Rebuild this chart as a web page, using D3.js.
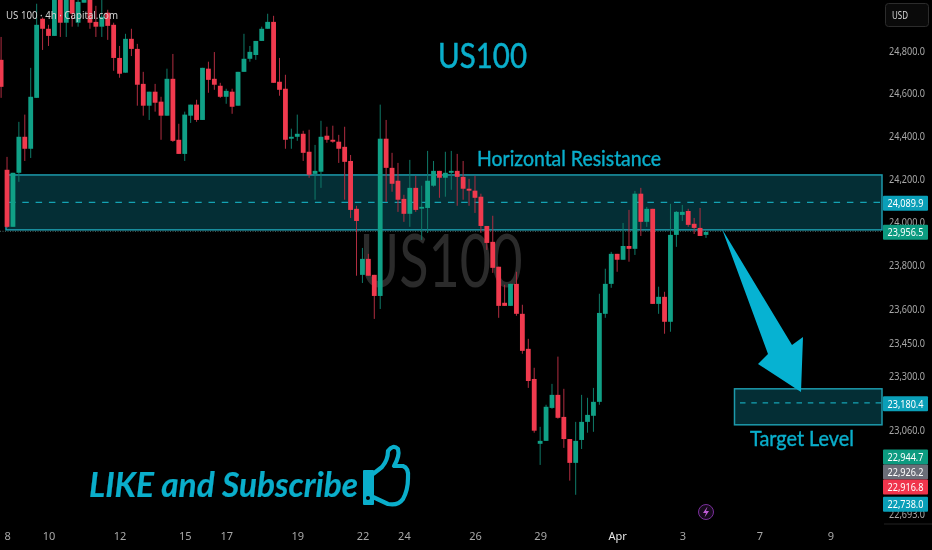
<!DOCTYPE html>
<html><head><meta charset="utf-8">
<script src="https://cdn.jsdelivr.net/npm/d3@7/dist/d3.min.js"></script>
<style>html,body{margin:0;padding:0;background:#000;overflow:hidden}svg{display:block;filter:blur(0.35px)}text{font-family:"Lato","Noto Sans",sans-serif}</style>
</head><body><div id="chart"></div>
<script>
const opens=[24758,24241,23977,24227,24395,24339,24578,24954,24906,24872,
25110,24935,25093,24935,25031,25093,24939,24916,24983,24925,
24767,24697,24858,24810,24644,24541,24607,24560,24494,24668,
24381,24315,24494,24546,24474,24716,24668,24635,24583,24607,
24541,24701,24763,24781,24848,24906,24939,24654,24621,24386,
24395,24409,24325,24222,24232,24400,24381,24372,24348,24282,
24060,23757,23830,23757,23661,24386,24250,24190,24106,24037,
24157,24064,24064,24167,24236,24204,24227,24236,24208,24153,
24144,24116,23981,23908,23794,23630,23616,23716,23580,23422,
23287,22999,23012,23158,23216,23118,23020,22915,23016,23096,
23123,23185,23580,23716,23853,23826,23889,23876,24130,24000,
24060,23625,23657,23544,23940,24032,24050,23991,23972,23940];
const highs=[24867,24301,24227,24465,24499,24720,25026,24960,24925,25130,
25130,25090,25110,25060,25080,25110,25016,25045,24997,24935,
24824,24882,24906,24834,24701,24607,24644,24583,24716,24786,
24456,24513,24546,24569,24720,24749,24795,24649,24621,24621,
24701,24882,24824,24848,24916,24978,24968,24767,24687,24433,
24499,24423,24428,24357,24470,24442,24447,24404,24442,24310,
24074,23880,23853,23757,24546,24474,24320,24273,24125,24287,
24213,24167,24329,24282,24236,24325,24329,24315,24282,24199,
24213,24130,23981,24028,23794,23712,23716,23771,23621,23467,
23337,23074,23172,23265,23387,23243,23020,23096,23216,23203,
23247,23671,23785,23862,23853,23995,24055,24143,24157,24069,
24060,23703,23680,24083,24050,24078,24060,24018,24064,23954];
const lows=[24578,23972,23977,24185,24282,24296,24578,24805,24824,24872,
24867,24867,24916,24916,25031,24906,24867,24867,24853,24706,
24673,24697,24776,24541,24494,24474,24513,24381,24494,24371,
24315,24282,24460,24465,24474,24602,24616,24578,24550,24503,
24541,24701,24749,24758,24848,24906,24649,24588,24339,24339,
24376,24282,24204,24102,24157,24367,24367,24273,24102,24018,
23753,23720,23753,23557,23602,24092,24139,24046,24000,23977,
24046,23917,23949,24162,24111,24116,24148,24074,24102,24074,
24041,23949,23871,23766,23562,23616,23616,23571,23400,23247,
23048,22906,23012,23154,23110,22981,22837,22775,22976,23048,
23052,23172,23562,23698,23771,23826,23817,23848,23935,23977,
23625,23580,23490,23499,23885,24004,23977,23944,23935,23926];
const closes=[24630,23977,24227,24395,24339,24583,24925,24906,24872,25117,
24935,25070,24978,25035,25070,24935,24916,24963,24920,24767,
24692,24858,24810,24640,24541,24607,24555,24494,24668,24376,
24315,24499,24546,24474,24720,24663,24640,24583,24611,24536,
24701,24763,24796,24848,24906,24939,24649,24616,24381,24395,
24409,24320,24218,24236,24395,24381,24372,24339,24278,24055,
24004,23830,23753,23661,24386,24250,24176,24102,24037,24157,
24055,24069,24190,24236,24204,24227,24236,24208,24153,24144,
24111,23981,23903,23789,23616,23616,23716,23580,23413,23278,
23057,23012,23163,23216,23114,23020,22915,23012,23096,23127,
23185,23584,23716,23853,23826,23889,23876,24130,24000,24060,
23625,23657,23544,23940,24046,24046,23986,23972,23935,23954];
const priceTicks=[24800,24600,24400,24200,24000,23800,23600,23450,23300,23060,22693];
const dateIdx=[2,9,21,32,39,51,62,69,81,92,105,116,129,141];
const dateLabels=["8","10","12","15","17","19","22","24","26","29","Apr","3","7","9"];
const zoneRes={top:24217,mid:24089.9,bottom:23963};
const zoneTgt={top:23243,mid:23180.4,bottom:23083};
const lastClose=23956.5;
const tagPrices=[24089.9,23956.5,23180.4,22944.7,22926.2,22916.8,22738.0];
const tagFills=["#0a9fb8","#0c9b80","#0a9fb8","#0c9b80","#6b6e78","#f0344c","#0a9fb8"];

const W=932,H=550,TEAL="#0aaecb";
const y=d3.scaleLog().domain([24800,23060]).range([51,430]);
const x=d3.scaleLinear().domain([1,120]).range([1.1,706]);
const xEnd=882;
const svg=d3.select("#chart").append("svg").attr("width",W).attr("height",H).attr("viewBox",`0 0 ${W} ${H}`);
svg.append("rect").attr("width",W).attr("height",H).attr("fill","#000");
const defs=svg.append("defs");
defs.append("clipPath").attr("id","plot").append("rect").attr("width",xEnd+1).attr("height",524);
const plot=svg.append("g").attr("clip-path","url(#plot)");

plot.append("text").attr("x",441).attr("y",287).attr("text-anchor","middle")
  .attr("font-size",73).attr("fill","#2b2b2b").attr("textLength",163).attr("lengthAdjust","spacingAndGlyphs").text("US100");

function zone(z,x0,x1,dash0,dash){
  plot.append("rect").attr("x",x0).attr("y",y(z.top)).attr("width",x1-x0).attr("height",y(z.bottom)-y(z.top))
   .attr("fill","#042e35").attr("stroke","#1c9aac").attr("stroke-width",1.5);
  plot.append("line").attr("x1",dash0).attr("x2",x1).attr("y1",y(z.mid)).attr("y2",y(z.mid))
   .attr("stroke","#14a3b4").attr("stroke-width",1.3).attr("stroke-dasharray",dash);
}
zone(zoneRes,6,xEnd,9,"6.5,6.8");
zone(zoneTgt,734.5,xEnd,740,"5.5,5.8");
plot.append("line").attr("x1",0).attr("x2",xEnd).attr("y1",y(lastClose)).attr("y2",y(lastClose))
  .attr("stroke","#4a6a66").attr("stroke-width",1).attr("stroke-dasharray","1,1.5");

const idx=d3.range(opens.length);
const color=i=>closes[i]>=opens[i]?"#10a086":"#f03a4e";
const wickColor=i=>closes[i]>=opens[i]?"#0f7a68":"#b02d40";
const cg=plot.append("g");
cg.selectAll("line.w").data(idx).join("line").attr("class","w")
  .attr("x1",i=>x(i+1)).attr("x2",i=>x(i+1)).attr("y1",i=>y(highs[i])).attr("y2",i=>y(lows[i]))
  .attr("stroke",wickColor).attr("stroke-width",1);
cg.selectAll("rect.b").data(idx).join("rect").attr("class","b")
  .attr("x",i=>x(i+1)-2.4).attr("width",4.8)
  .attr("y",i=>Math.min(y(opens[i]),y(closes[i])))
  .attr("height",i=>Math.max(1.8,Math.abs(y(opens[i])-y(closes[i]))))
  .attr("fill",color);

// Arrow
svg.append("path").attr("d","M722,229 L792,345 L803,337 L801,392 L758,364 L768,354 Z").attr("fill","#06b2d2");

// Annotation text
const note=(t,xp,yp,fs,len,extra={})=>{const s=svg.append("text").attr("x",xp).attr("y",yp).attr("font-size",fs)
  .attr("fill",TEAL).attr("stroke",TEAL).attr("stroke-width",extra.sw||0.4).attr("textLength",len).attr("lengthAdjust","spacingAndGlyphs").text(t);
  if(extra.italic)s.attr("font-style","italic");if(extra.weight)s.attr("font-weight",extra.weight);return s;};
note("US100",438,68,34,89,{sw:0.5});
note("Horizontal Resistance",477,166,21,184);
note("Target Level",750,446,21,104);
note("LIKE and Subscribe",89,497,34,269,{italic:true,weight:700,sw:0.2});

// Thumb
const th=svg.append("g").attr("fill","none").attr("stroke",TEAL).attr("stroke-width",4.2).attr("stroke-linejoin","round");
th.append("path").attr("d","M373,474 L382,467 Q388,460 388,451 Q393,444 398,449 Q400,456 394,466 L403,466 Q409,468 408,478 Q408,490 403,499 Q398,506 388,504 L373,497");
svg.append("rect").attr("x",363).attr("y",470).attr("width",11).attr("height",35).attr("rx",1).attr("fill",TEAL);
svg.append("circle").attr("cx",368).attr("cy",498).attr("r",2).attr("fill","#000");

// Header
svg.append("text").attr("x",6).attr("y",19).attr("font-size",11.5).attr("fill","#d4d4d4").attr("textLength",112)
  .attr("lengthAdjust","spacingAndGlyphs").style("font-family","'Noto Sans'").text("US 100 · 4h · Capital.com");

// Axes
const axR=svg.append("g").attr("transform","translate(883,0)")
  .call(d3.axisRight(y).tickValues(priceTicks).tickSize(0).tickPadding(6).tickFormat(d3.format(",.1f")));
axR.select(".domain").remove();
axR.selectAll("text").attr("fill","#a8a8a8").attr("font-size",11).attr("textLength",36).attr("lengthAdjust","spacingAndGlyphs").style("font-family","'Noto Sans'");
const axB=svg.append("g").attr("transform","translate(0,530)")
  .call(d3.axisBottom(x).tickValues(dateIdx).tickSize(0).tickPadding(2).tickFormat((d,i)=>dateLabels[i]));
axB.select(".domain").remove();
axB.selectAll("text").attr("font-size",11).style("font-family","'Noto Sans'").attr("fill",(d,i)=>dateLabels[i]==="Apr"?"#e6e6e6":"#a8a8a8");
svg.append("line").attr("x1",884).attr("x2",932).attr("y1",524).attr("y2",524).attr("stroke","#222");

// Price tags
let prev=-100;
tagPrices.forEach((p,i)=>{
  const cy=Math.max(y(p)+1,prev+15);prev=cy;
  svg.append("rect").attr("x",883).attr("y",cy-7.5).attr("width",45).attr("height",15).attr("rx",1).attr("fill",tagFills[i]);
  svg.append("text").attr("x",905.5).attr("y",cy+4).attr("text-anchor","middle").attr("font-size",11).attr("fill","#fff")
   .attr("textLength",36).attr("lengthAdjust","spacingAndGlyphs").style("font-family","'Noto Sans'").text(d3.format(",.1f")(p));
});

// USD button
svg.append("rect").attr("x",885.5).attr("y",3.5).attr("width",43).attr("height",23).attr("rx",3).attr("fill","#0a0a0a").attr("stroke","#2c2c2c");
svg.append("text").attr("x",892).attr("y",19).attr("font-size",11.5).attr("fill","#d8d8d8").attr("textLength",16).attr("lengthAdjust","spacingAndGlyphs").style("font-family","'Noto Sans'").text("USD");

// Lightning badge
svg.append("circle").attr("cx",706).attr("cy",512).attr("r",7.5).attr("fill","#160a1c").attr("stroke","#7b2f9c").attr("stroke-width",1);
svg.append("path").attr("d","M707.5,506.5 L703,513 L706,513 L704.5,517.5 L709,511 L706,511 Z").attr("fill","#c05cd8");
</script></body></html>
